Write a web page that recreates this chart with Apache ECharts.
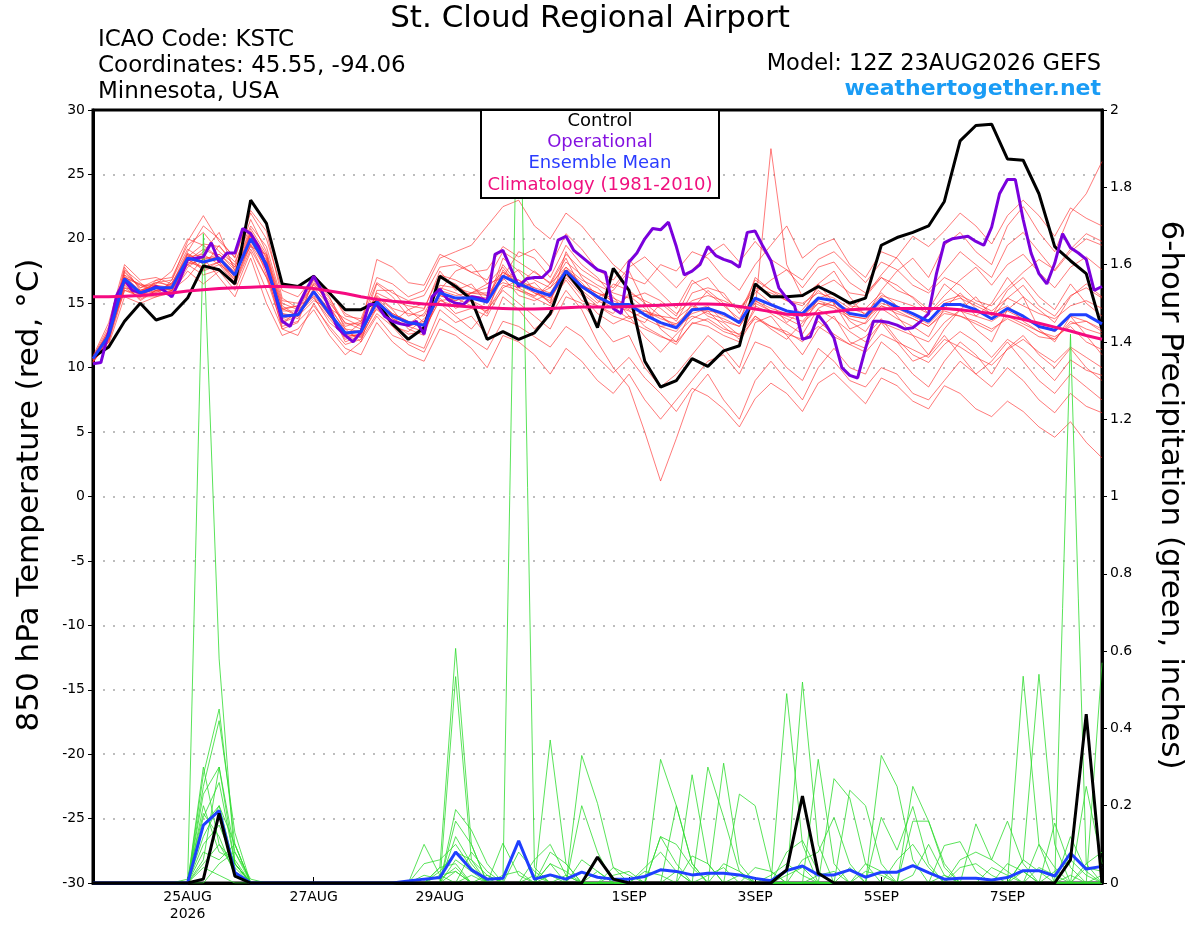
<!DOCTYPE html>
<html><head><meta charset="utf-8">
<script src="https://cdn.jsdelivr.net/npm/echarts@6/dist/echarts.min.js"></script>
<style>html,body{margin:0;padding:0;background:#fff}#c{width:1200px;height:927px}</style>
</head><body><div id="c"></div>
<script>
// ---- time axis (hours after 12Z 23AUG2026) ----
const STEP_HOURS = 6;        // ensemble / control output step
const OPER_STEP_HOURS = 3;   // operational output step
const xTickHours = [36, 84, 132, 204, 252, 300, 348];
const xTickLabels = ['25AUG\n2026', '27AUG', '29AUG', '1SEP', '3SEP', '5SEP', '7SEP'];
const tempTicks = { min: -30, max: 30, step: 5 };
const precipTicks = { min: 0, max: 2, step: 0.2 };

// ---- 850 hPa temperature (°C) ----
const controlTemp = [
 10.8,11.6,13.6,15.0,13.7,14.1,15.4,17.9,17.6,16.5,23.0,21.2,16.5,
 16.3,17.1,15.8,14.5,14.5,15.1,13.4,12.2,13.1,17.1,16.3,15.3,12.2,
 12.8,12.2,12.7,14.2,17.5,15.9,13.1,17.7,16.0,10.5,8.5,9.0,10.7,
 10.1,11.3,11.7,16.5,15.5,15.5,15.6,16.3,15.7,15.0,15.4,19.5,20.1,
 20.5,21.0,22.9,27.6,28.8,28.9,26.2,26.1,23.5,19.4,18.3,17.3,13.0];

const meanTemp = [
 10.7,12.5,16.9,15.8,16.2,16.2,18.5,18.2,18.5,17.2,20.0,18.0,14.0,
 14.1,15.9,14.2,12.7,12.8,15.1,14.0,13.5,13.3,15.8,15.4,15.4,15.1,
 17.1,16.5,16.0,15.6,17.5,16.3,15.5,14.9,14.9,14.1,13.5,13.1,14.5,
 14.6,14.2,13.5,15.4,14.9,14.4,14.2,15.4,15.2,14.2,14.0,15.3,14.7,
 14.2,13.6,14.9,14.9,14.5,13.8,14.6,14.0,13.2,12.9,14.1,14.1,13.4];

const climoTemp = [
 15.5,15.5,15.55,15.6,15.7,15.8,15.95,16.05,16.15,16.2,16.25,16.3,16.3,
 16.25,16.15,15.95,15.75,15.5,15.3,15.15,15.05,14.95,14.9,14.8,14.7,14.65,
 14.6,14.55,14.55,14.6,14.65,14.7,14.7,14.7,14.75,14.8,14.85,14.9,14.95,
 14.95,14.9,14.75,14.55,14.35,14.15,14.1,14.2,14.35,14.5,14.55,14.55,14.6,
 14.6,14.6,14.6,14.5,14.35,14.2,14.0,13.75,13.45,13.15,12.85,12.5,12.2];

// operational run, 3-hourly
const operTemp = [
 10.3,10.4,12.8,15.6,16.8,16.0,15.8,16.0,16.3,16.0,15.5,16.8,18.4,
 18.5,18.6,19.7,18.2,18.9,18.9,20.8,20.4,19.4,17.8,16.0,13.6,13.2,
 14.7,16.0,17.1,16.0,14.6,13.1,12.5,12.0,12.8,14.9,14.9,14.0,13.6,
 13.4,13.3,13.6,12.6,15.5,16.1,15.3,15.0,14.9,15.5,15.4,15.2,18.8,
 19.1,17.7,16.3,16.9,17.0,17.0,17.6,19.9,20.2,19.1,18.6,18.1,17.6,
 17.4,14.6,14.2,18.2,18.9,20.0,20.8,20.7,21.3,19.4,17.2,17.5,18.0,
 19.4,18.7,18.4,18.2,17.8,20.5,20.6,19.4,18.3,16.2,15.4,14.8,12.2,
 12.4,14.1,13.3,12.3,10.0,9.4,9.2,11.5,13.6,13.6,13.5,13.3,13.0,
 13.1,13.6,14.2,17.3,19.7,20.0,20.1,20.2,19.8,19.5,20.9,23.5,24.6,
 24.6,21.5,18.9,17.3,16.5,18.1,20.4,19.3,18.9,18.4,16.0,16.3];

const ensembleTemp = [
 [10.5,12.0,17.5,16.2,16.8,17.0,19.5,20.5,19.0,18.0,21.5,19.0,15.0,
  14.5,16.5,15.0,13.5,13.0,16.5,15.5,14.0,14.5,17.5,16.0,16.5,15.0,
  18.5,17.5,16.0,15.0,19.0,17.0,15.5,16.0,17.5,15.0,13.0,12.0,14.5,
  16.0,15.0,13.5,17.0,16.0,15.5,14.0,16.5,17.5,15.5,14.0,16.0,17.5,
  18.5,17.0,19.5,20.5,19.0,18.0,21.0,22.5,20.5,19.0,22.0,23.5,26.0],
 [10.8,12.5,16.0,15.5,15.5,15.8,17.5,16.5,17.5,16.0,19.0,16.0,13.0,
  12.5,15.0,13.0,11.5,11.0,13.5,12.0,11.0,10.5,13.0,12.5,11.5,10.0,
  12.5,12.0,11.0,9.5,11.5,10.5,9.0,8.0,9.5,7.5,6.0,7.5,9.0,
  10.5,11.0,9.5,12.0,11.5,10.0,9.0,11.5,10.5,9.0,8.5,10.0,9.5,
  8.0,7.5,9.0,10.5,9.5,8.5,10.0,9.0,7.5,6.5,8.0,7.0,6.5],
 [10.6,13.0,17.0,16.5,16.0,16.5,18.0,19.0,20.5,17.5,20.5,18.5,13.5,
  14.0,16.0,14.5,12.0,12.5,15.5,14.5,13.0,12.5,16.0,17.5,18.0,16.5,
  17.0,19.0,18.5,17.0,19.5,18.0,17.0,15.5,14.0,13.5,15.0,14.0,16.5,
  17.0,15.5,14.5,16.0,15.0,13.5,14.5,16.0,15.0,13.0,13.5,15.5,14.0,
  12.5,11.0,13.0,14.5,13.0,12.0,14.5,15.5,13.0,12.0,14.0,12.5,11.0],
 [10.4,12.2,16.5,15.2,16.0,15.5,18.8,17.5,18.0,16.5,19.5,17.0,14.5,
  14.8,15.5,13.5,12.5,13.5,14.5,13.5,14.5,15.0,15.0,14.0,13.0,14.5,
  16.0,15.0,14.0,13.0,15.5,15.0,13.5,12.0,12.5,10.0,8.5,9.5,11.0,
  12.5,11.5,10.0,13.5,14.0,12.5,11.0,13.0,14.0,12.0,11.5,13.5,12.0,
  10.5,11.0,12.5,11.0,9.5,10.5,12.0,10.5,9.0,8.0,9.5,8.5,7.5],
 [10.9,13.5,18.0,16.8,17.0,16.5,19.0,21.0,20.0,18.5,22.0,20.0,16.0,
  15.5,17.0,16.0,14.0,13.8,17.0,16.5,15.5,16.0,18.5,19.0,19.5,21.0,
  22.5,23.0,21.0,20.0,22.0,21.0,19.5,18.0,17.0,16.5,18.0,17.5,19.0,
  18.5,17.0,16.0,18.0,19.5,21.0,18.5,19.5,20.0,18.0,17.0,19.0,18.5,
  17.0,16.0,17.5,19.0,18.0,17.0,19.5,20.5,19.0,17.5,19.0,20.0,19.5],
 [10.5,11.8,15.5,15.0,15.5,16.0,17.0,18.5,17.0,15.5,18.5,15.0,12.5,
  13.0,14.5,12.5,11.0,12.0,14.0,12.5,12.0,11.5,14.5,13.5,14.0,12.5,
  15.5,14.5,13.0,14.0,16.0,14.5,12.0,10.0,8.5,5.0,1.2,4.5,8.0,
  9.5,7.5,6.0,9.0,10.5,9.0,7.5,10.0,11.5,10.0,9.5,12.0,11.0,
  9.5,8.5,10.5,12.0,11.0,9.5,11.5,12.5,11.0,10.0,11.5,10.0,9.0],
 [10.7,12.8,17.8,16.0,16.5,17.5,20.0,19.5,18.5,17.0,20.5,17.5,13.0,
  13.5,17.0,15.5,13.0,12.0,16.0,16.0,14.5,13.5,17.0,16.5,15.5,15.0,
  18.0,16.5,17.5,16.5,18.5,16.0,15.0,16.5,16.0,15.0,14.0,13.0,15.0,
  14.0,13.5,12.5,14.5,27.0,18.0,15.5,16.5,15.0,14.5,15.5,17.0,16.0,
  15.5,14.5,16.5,15.5,14.0,15.0,17.0,15.5,14.5,13.5,15.5,16.5,15.5],
 [10.6,12.4,16.8,15.6,16.2,16.0,18.2,17.8,19.5,17.8,20.8,18.8,14.2,
  13.8,16.2,14.8,12.8,12.3,14.8,13.2,12.8,13.8,15.2,14.8,15.8,16.5,
  17.8,16.2,15.5,16.5,17.8,16.8,16.2,15.0,14.5,13.2,12.5,11.8,13.5,
  13.2,12.5,12.0,14.0,13.0,12.2,13.5,14.5,13.8,12.8,12.0,13.5,13.0,
  12.5,12.0,13.5,14.5,15.5,14.0,16.0,17.0,15.5,14.5,16.5,15.0,14.0],
 [10.5,12.6,17.2,16.4,15.8,16.6,18.6,18.8,18.0,17.2,19.8,18.4,14.6,
  14.8,16.4,15.2,13.2,13.6,15.6,14.6,14.2,14.0,16.2,15.8,15.2,14.6,
  17.0,15.6,15.2,15.8,17.2,15.8,14.8,14.2,15.8,15.2,14.6,13.6,15.8,
  16.2,15.8,14.2,16.8,16.0,15.2,14.8,16.2,16.8,15.8,15.6,17.2,18.6,
  20.2,19.4,20.6,22.0,21.0,19.6,21.8,23.0,21.8,20.2,22.4,21.6,21.0],
 [10.8,12.9,16.2,15.9,16.6,16.4,18.9,18.0,18.8,17.6,20.2,18.2,13.8,
  14.2,15.4,13.8,12.4,12.6,15.0,13.8,13.2,12.8,15.4,14.2,14.6,14.0,
  16.2,16.8,16.2,15.0,16.8,15.2,14.8,14.0,13.6,13.0,12.4,12.0,13.4,
  13.8,13.0,12.6,14.0,13.2,12.8,12.0,13.6,12.6,11.8,12.4,13.8,12.2,
  11.0,10.4,11.8,12.8,12.0,10.8,12.2,11.4,10.2,9.0,10.6,9.8,9.4],
 [10.6,12.1,16.6,16.0,16.4,15.6,17.8,18.6,18.4,16.8,19.6,17.6,14.4,
  14.4,15.8,14.4,12.6,12.9,15.4,14.2,13.6,13.2,15.6,15.2,15.8,15.8,
  16.6,16.2,16.6,15.4,17.4,16.4,15.8,15.4,14.8,14.4,13.8,13.4,14.2,
  14.6,14.0,13.6,15.2,14.6,14.2,14.0,15.0,14.8,14.0,13.8,14.8,14.2,
  13.8,13.2,14.4,14.0,13.6,13.0,13.8,13.2,12.4,12.2,13.4,13.6,12.8],
 [10.7,12.7,17.6,16.6,15.6,16.8,19.8,21.8,19.8,18.6,22.2,20.6,15.4,
  14.6,16.8,14.6,13.8,13.2,18.4,17.8,16.6,16.4,18.8,18.2,17.4,17.6,
  19.4,18.6,19.2,17.8,20.4,19.2,17.6,16.8,18.4,17.0,15.8,14.6,16.8,
  15.8,14.8,13.8,15.8,16.8,17.6,16.2,17.8,18.2,16.6,15.8,17.0,16.4,
  15.4,14.2,15.6,16.8,17.8,16.4,18.0,18.8,17.4,16.2,17.8,18.6,17.6],
 [10.4,12.3,16.4,15.3,16.0,15.9,18.0,17.2,17.6,16.4,19.2,17.0,13.2,
  13.6,14.8,13.2,11.8,12.2,14.2,13.2,11.8,11.2,13.8,13.0,12.2,11.4,
  13.6,13.2,12.4,11.6,13.2,12.4,10.8,9.6,10.8,9.2,8.0,6.6,8.4,
  7.8,6.8,5.4,7.6,8.8,8.0,6.6,8.8,9.6,8.4,7.2,9.2,8.6,
  7.4,6.8,8.6,8.0,6.8,6.2,7.4,6.6,5.4,4.6,5.8,4.2,3.0],
 [10.9,12.6,17.4,16.2,16.6,16.8,19.2,18.4,18.8,17.8,20.6,18.6,14.6,
  14.0,16.6,15.4,13.4,13.4,15.8,15.2,14.8,14.6,17.2,16.8,16.2,15.6,
  16.8,17.6,16.8,16.2,18.2,17.2,16.4,15.8,15.4,15.8,15.2,14.2,15.2,
  15.6,15.2,14.6,16.2,15.8,15.2,15.0,15.8,15.4,14.6,14.2,15.6,15.2,
  14.8,14.2,15.2,15.6,15.0,14.4,15.4,14.8,14.2,13.8,14.8,15.2,14.6],
 [10.6,12.2,16.2,15.4,16.8,16.2,18.4,17.6,18.2,16.8,20.4,17.2,13.6,
  14.2,15.6,14.0,12.6,12.4,14.6,13.4,12.6,12.8,15.8,14.6,15.2,14.2,
  17.6,16.0,15.4,14.8,17.0,15.6,14.2,13.4,14.0,12.4,11.2,12.6,13.8,
  14.4,13.2,12.2,14.8,14.2,13.4,12.6,14.6,15.2,13.6,12.8,14.6,13.8,
  13.2,12.4,14.6,15.8,14.6,13.8,15.4,16.4,14.8,14.0,15.6,16.2,15.4],
 [10.5,12.0,16.0,15.7,15.9,16.3,18.3,19.2,18.6,17.4,19.4,18.8,14.8,
  14.0,15.2,14.6,13.0,12.8,15.2,14.0,13.4,14.2,16.4,16.2,15.8,16.2,
  17.4,16.8,15.8,15.2,17.6,16.6,15.2,14.6,15.6,14.6,13.2,12.8,14.4,
  14.8,13.6,13.2,15.2,14.4,13.8,13.2,15.4,15.8,14.8,14.6,15.8,14.8,
  14.2,13.6,15.0,15.4,14.8,14.2,14.8,13.6,12.8,12.4,13.2,12.0,11.4],
 [10.8,13.2,17.0,16.4,16.4,16.0,18.6,19.6,19.4,18.2,21.0,19.4,15.2,
  15.0,17.2,15.8,14.2,13.6,16.6,15.8,15.2,15.6,17.8,18.0,17.4,16.8,
  19.0,18.2,17.4,16.6,18.8,17.6,16.8,16.2,17.8,18.6,17.4,16.2,17.6,
  18.8,19.6,18.2,19.8,18.4,17.6,16.8,18.4,19.0,17.8,16.6,18.2,17.6,
  16.4,15.8,17.0,16.4,15.2,14.8,16.2,17.4,18.4,17.6,19.2,20.4,19.8],
 [10.6,12.4,16.6,15.8,16.0,16.4,18.4,17.8,18.2,16.6,19.8,17.8,13.4,
  14.4,16.0,14.2,12.2,12.6,15.0,14.2,13.6,13.0,15.2,15.4,14.8,14.4,
  16.4,16.0,15.6,16.2,17.4,16.2,15.4,14.6,13.8,14.4,14.0,13.2,14.0,
  13.6,12.8,12.4,13.8,13.2,12.6,12.2,13.2,12.4,11.8,11.2,12.6,12.0,
  11.4,10.8,12.2,11.6,10.8,10.2,11.4,12.2,11.2,10.4,11.6,10.8,10.0],
 [10.7,12.6,17.0,16.0,16.2,16.0,18.0,18.4,18.6,17.4,20.0,18.0,14.0,
  14.2,16.0,14.4,12.6,12.8,15.0,14.0,13.4,13.4,15.6,15.2,15.6,15.4,
  17.2,16.4,15.8,15.4,17.2,16.2,15.6,14.8,14.4,13.8,13.2,13.4,14.6,
  14.4,14.2,13.4,15.4,14.8,14.4,14.0,15.2,14.8,14.0,13.8,15.0,14.6,
  14.0,13.4,14.6,14.4,14.0,13.6,14.4,13.8,13.2,12.8,14.0,13.6,13.0],
 [10.5,12.8,17.2,15.8,16.4,16.2,18.8,18.2,18.4,17.0,20.2,18.2,14.2,
  14.0,15.8,14.0,12.4,12.6,15.4,13.8,13.2,13.6,16.0,15.6,15.8,15.6,
  17.4,16.6,16.2,15.8,17.8,16.4,15.8,15.2,14.6,14.2,14.0,13.8,14.8,
  14.2,13.8,13.2,15.0,14.4,14.0,13.6,15.0,14.6,13.8,13.4,14.8,14.4,
  13.8,13.2,14.2,14.0,13.4,12.8,14.0,13.4,12.8,12.2,13.6,13.0,12.6]
];

// ---- 6-hour precipitation (inches) ----
const controlPrecip = [
 0,0,0,0,0,0,0,0.01,0.18,0.018,0,0,0,
 0,0,0,0,0,0,0,0,0,0,0,0,0,
 0,0,0,0,0,0,0.067,0.01,0,0,0,0,0,
 0,0,0,0,0,0.034,0.225,0.025,0,0,0,0,0,
 0,0,0,0,0,0,0,0,0,0,0.06,0.437,0];

const meanPrecip = [
 0,0,0,0,0,0,0,0.15,0.187,0.027,0,0,0,
 0,0,0,0,0,0,0,0.005,0.01,0.014,0.08,0.034,0.01,
 0.012,0.109,0.01,0.021,0.01,0.028,0.015,0.01,0.01,0.017,0.034,0.03,0.021,
 0.025,0.025,0.021,0.012,0.006,0.032,0.044,0.021,0.021,0.034,0.015,0.028,0.028,
 0.045,0.027,0.01,0.012,0.012,0.008,0.014,0.032,0.032,0.018,0.077,0.036,0.043];

// ensemble members: [step index, inches]; all other steps are 0
const ensemblePrecip = [
 [[7,1.68],[8,0.58],[9,0.05],[23,0.12],[24,0.05],[36,0.12],[37,0.05],[45,0.52],[46,0.1],[59,0.06],[60,0.54],[61,0.1]],
 [[7,0.28],[8,0.45],[9,0.1],[22,0.04],[23,0.607],[24,0.1],[29,0.05],[38,0.28],[39,0.05],[44,0.49],[45,0.1],[63,0.25],[64,0.05]],
 [[7,0.25],[8,0.42],[9,0.13],[23,0.534],[24,0.06],[27,2.3],[28,0.04],[40,0.31],[41,0.05],[50,0.33],[51,0.25],[52,0.06],[62,1.42],[63,0.05]],
 [[7,0.23],[8,0.3],[9,0.08],[21,0.1],[22,0.02],[29,0.37],[30,0.05],[36,0.32],[37,0.2],[38,0.05],[47,0.27],[48,0.22],[49,0.05],[59,0.535],[60,0.1]],
 [[7,0.17],[8,0.26],[9,0.05],[23,0.19],[24,0.137],[25,0.05],[31,0.33],[32,0.206],[33,0.04],[41,0.23],[42,0.2],[43,0.03],[52,0.25],[53,0.16],[54,0.05],[64,0.57]],
 [[7,0.15],[8,0.2],[9,0.1],[23,0.16],[24,0.1],[26,0.103],[27,0.02],[31,0.2],[32,0.08],[39,0.3],[40,0.17],[41,0.03],[46,0.32],[47,0.05],[56,0.153],[57,0.06],[58,0.16],[59,0.05]],
 [[7,0.1],[8,0.15],[9,0.05],[21,0.05],[22,0.06],[23,0.1],[24,0.04],[28,0.06],[29,0.1],[30,0.02],[37,0.2],[38,0.05],[48,0.24],[49,0.2],[50,0.05],[61,0.155],[62,0.04]],
 [[7,0.3],[8,0.1],[9,0.05],[22,0.03],[23,0.08],[24,0.06],[25,0.02],[33,0.04],[34,0.02],[44,0.08],[45,0.11],[46,0.03],[50,0.17],[51,0.085],[52,0.198],[53,0.05],[60,0.1],[61,0.04]],
 [[7,0.05],[8,0.1],[9,0.03],[29,0.08],[30,0.05],[36,0.12],[37,0.1],[38,0.04],[54,0.097],[55,0.107],[56,0.03],[63,0.05],[64,0.08]],
 [[7,0.2],[8,0.08],[9,0.06],[23,0.06],[24,0.03],[31,0.06],[32,0.03],[40,0.05],[41,0.03],[45,0.06],[46,0.08],[47,0.17],[48,0.05],[52,0.16],[53,0.16],[54,0.04],[59,0.06],[60,0.03]],
 [[7,0.12],[8,0.2],[9,0.04],[22,0.04],[23,0.05],[27,0.08],[28,0.03],[35,0.04],[36,0.08],[37,0.03],[49,0.05],[50,0.03],[55,0.06],[56,0.08],[57,0.06],[58,0.03],[62,0.12],[63,0.03]],
 [[7,0.06],[8,0.3],[9,0.05],[24,0.08],[25,0.03],[29,0.05],[30,0.03],[38,0.07],[39,0.05],[42,0.04],[43,0.03],[51,0.06],[52,0.1],[53,0.04],[58,0.05],[59,0.03],[64,0.02]],
 [[6,0.01],[7,0.18],[8,0.12],[9,0.02],[21,0.02],[22,0.01],[23,0.04],[30,0.02],[32,0.03],[44,0.02],[45,0.04],[52,0.02],[53,0.1],[54,0.02],[61,0.03],[62,0.06],[63,0.02]],
 [[8,0.05],[9,0.08],[10,0.01],[23,0.03],[26,0.02],[27,0.03],[33,0.02],[34,0.03],[39,0.02],[40,0.04],[46,0.02],[47,0.03],[55,0.04],[56,0.05],[57,0.02],[60,0.04],[61,0.02]],
 [[7,0.08],[8,0.06],[9,0.1],[22,0.02],[23,0.03],[25,0.02],[28,0.02],[35,0.03],[36,0.02],[43,0.02],[44,0.05],[45,0.02],[49,0.03],[50,0.02],[57,0.04],[58,0.02],[63,0.04],[64,0.03]],
 [[7,0.04],[8,0.02],[24,0.02],[29,0.02],[37,0.03],[41,0.02],[48,0.04],[54,0.02],[59,0.03],[62,0.02]]
];

// ---- build ----
const N = controlTemp.length;
const toPairs = (vals, step) => vals.map((v, i) => [i * step, v]);
const fullFromSparse = (entries) => {
  const a = new Array(N).fill(0);
  entries.forEach(([i, v]) => { a[i] = v; });
  return a;
};

const FONT = '"DejaVu Sans", "Liberation Sans", sans-serif';
const series = [];
ensembleTemp.forEach(m => series.push({
  type: 'line', yAxisIndex: 0, data: toPairs(m, STEP_HOURS), symbol: 'none', silent: true,
  lineStyle: { color: 'rgba(255,45,45,0.8)', width: 0.8 }, z: 1, clip: true
}));
ensemblePrecip.forEach(m => series.push({
  type: 'line', yAxisIndex: 1, data: toPairs(fullFromSparse(m), STEP_HOURS), symbol: 'none', silent: true,
  lineStyle: { color: '#2edc2e', width: 0.8 }, z: 2, clip: true
}));
series.push({ type: 'line', yAxisIndex: 1, data: toPairs(meanPrecip, STEP_HOURS), symbol: 'none', silent: true,
  lineStyle: { color: '#1f3fff', width: 3 }, z: 3, clip: true });
series.push({ type: 'line', yAxisIndex: 1, data: toPairs(controlPrecip, STEP_HOURS), symbol: 'none', silent: true,
  lineStyle: { color: '#000', width: 3 }, z: 3, clip: true });
series.push({ type: 'line', yAxisIndex: 0, data: toPairs(controlTemp, STEP_HOURS), symbol: 'none', silent: true,
  lineStyle: { color: '#000', width: 3 }, z: 4, clip: true });
series.push({ type: 'line', yAxisIndex: 0, data: toPairs(operTemp, OPER_STEP_HOURS), symbol: 'none', silent: true,
  lineStyle: { color: '#7a00dc', width: 3 }, z: 5, clip: true });
series.push({ type: 'line', yAxisIndex: 0, data: toPairs(meanTemp, STEP_HOURS), symbol: 'none', silent: true,
  lineStyle: { color: '#1f3fff', width: 3 }, z: 6, clip: true });
series.push({ type: 'line', yAxisIndex: 0, data: toPairs(climoTemp, STEP_HOURS), symbol: 'none', silent: true,
  lineStyle: { color: '#f50a80', width: 3 }, z: 7, clip: true });

const chart = echarts.init(document.getElementById('c'), null, { renderer: 'canvas' });
const txt = (text, x, y, font, fill, align, extra) => Object.assign({
  type: 'text', x, y, z: 100,
  style: { text, font, fill, align, textAlign: align, verticalAlign: 'middle', textVerticalAlign: 'middle' }
}, extra || {});

chart.setOption({
  animation: false,
  backgroundColor: '#fff',
  grid: { left: 93, right: 98, top: 110, bottom: 44, show: true, borderColor: '#000', borderWidth: 3, backgroundColor: 'transparent' },
  xAxis: {
    type: 'value', min: 0, max: (N - 1) * STEP_HOURS,
    axisLine: { onZero: false, lineStyle: { color: '#000', width: 3 } },
    axisTick: { show: true, inside: true, length: 6, customValues: xTickHours, lineStyle: { color: '#000', width: 1 } },
    axisLabel: {
      customValues: xTickHours, margin: 6, color: '#000', fontSize: 14, fontFamily: FONT, lineHeight: 17,
      formatter: v => { const k = xTickHours.indexOf(v); return k >= 0 ? xTickLabels[k] : ''; }
    },
    splitLine: { show: false }
  },
  yAxis: [
    {
      type: 'value', min: tempTicks.min, max: tempTicks.max, interval: tempTicks.step, position: 'left',
      axisLine: { show: true, onZero: false, lineStyle: { color: '#000', width: 3 } },
      axisTick: { show: true, length: 5, lineStyle: { color: '#000', width: 1 } },
      axisLabel: { color: '#000', fontSize: 14, fontFamily: FONT, margin: 8 },
      splitLine: { show: true, showMinLine: false, showMaxLine: false, lineStyle: { color: '#a8a8a8', type: [2, 8], width: 1.5 } }
    },
    {
      type: 'value', min: precipTicks.min, max: precipTicks.max, interval: precipTicks.step, position: 'right',
      axisLine: { show: true, onZero: false, lineStyle: { color: '#000', width: 3 } },
      axisTick: { show: true, length: 5, lineStyle: { color: '#000', width: 1 } },
      axisLabel: { color: '#000', fontSize: 14, fontFamily: FONT, margin: 8, formatter: v => String(+v.toFixed(1)) },
      splitLine: { show: false }
    }
  ],
  series,
  graphic: [
    txt('St. Cloud Regional Airport', 590, 19, '31px ' + FONT, '#000', 'center'),
    txt('ICAO Code: KSTC', 98, 40, '23px ' + FONT, '#000', 'left'),
    txt('Coordinates: 45.55, -94.06', 98, 66, '23px ' + FONT, '#000', 'left'),
    txt('Minnesota, USA', 98, 92, '23px ' + FONT, '#000', 'left'),
    txt('Model: 12Z 23AUG2026 GEFS', 1101, 64, '22.5px ' + FONT, '#000', 'right'),
    txt('weathertogether.net', 1101, 89, 'bold 22px ' + FONT, '#1a9cf5', 'right'),
    txt('850 hPa Temperature (red, °C)', 30, 495, '31px ' + FONT, '#000', 'center', { rotation: Math.PI / 2 }),
    txt('6-hour Precipitation (green, inches)', 1170, 495, '31px ' + FONT, '#000', 'center', { rotation: -Math.PI / 2 }),
    { type: 'rect', z: 99, shape: { x: 481, y: 110, width: 238, height: 88 },
      style: { fill: '#fff', stroke: '#000', lineWidth: 2 } },
    txt('Control', 600, 121, '18px ' + FONT, '#000', 'center'),
    txt('Operational', 600, 142, '18px ' + FONT, '#8412e0', 'center'),
    txt('Ensemble Mean', 600, 163, '18px ' + FONT, '#2a3cff', 'center'),
    txt('Climatology (1981-2010)', 600, 185, '18px ' + FONT, '#f0107f', 'center')
  ]
});
</script>
</body></html>
